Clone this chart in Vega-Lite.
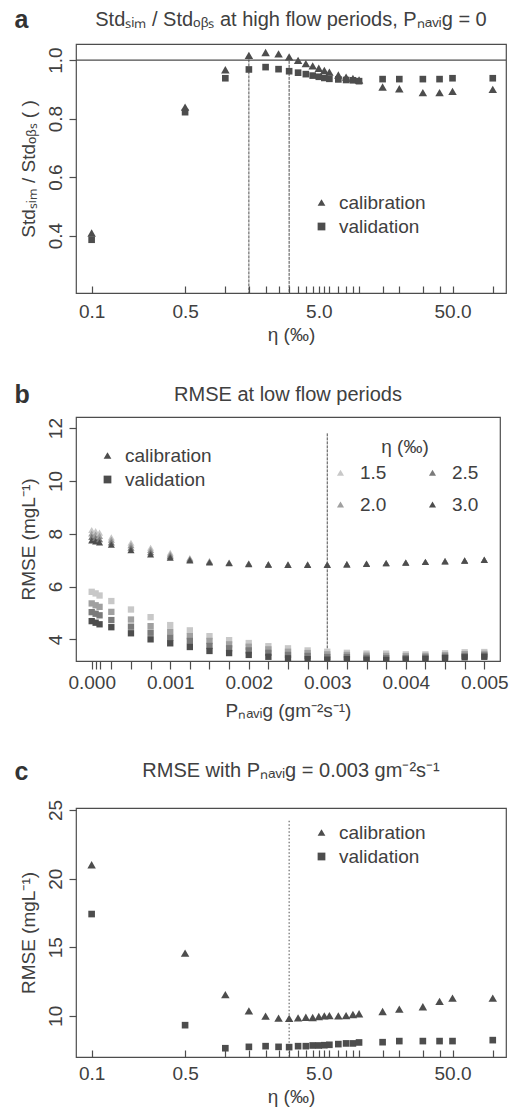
{
 "$schema": "https://vega.github.io/schema/vega-lite/v6.json",
 "background": "white",
 "padding": {"left": 14, "top": 8, "right": 0, "bottom": 0},
 "spacing": 38,
 "resolve": {"scale": {"color": "independent", "shape": "independent"}, "legend": {"color": "independent", "shape": "independent"}},
 "config": {
  "font": "Liberation Sans",
  "view": {"stroke": "#4d4d4d", "strokeWidth": 1.2},
  "axis": {"grid": false, "domain": false, "ticks": true, "tickColor": "#4d4d4d", "tickWidth": 1.2, "tickSize": 7, "labelFont": "Liberation Sans", "labelFontSize": 19, "labelColor": "#404040", "titleFont": "Liberation Sans", "titleFontSize": 19, "titleFontWeight": "normal", "titleColor": "#404040", "labelPadding": 4, "labelOverlap": false, "labelFlush": false},
  "axisY": {"labelAngle": 270, "titlePadding": 8},
  "axisX": {"titlePadding": 4},
  "title": {"font": "Liberation Sans", "fontSize": 20, "fontWeight": "normal", "color": "#404040"},
  "legend": {"orient": "none", "padding": 0, "labelFont": "Liberation Sans", "labelFontSize": 19, "labelColor": "#404040", "titleFont": "Liberation Sans", "titleFontSize": 19, "titleFontWeight": "normal", "titleColor": "#404040", "symbolSize": 60, "labelOffset": 8, "rowPadding": 4, "symbolStrokeWidth": 0, "symbolFillColor": "#4d4d4d"}
 },
 "datasets": {
  "aCal": [
   {"eta":0.1,"v":0.409,"t":"calibration"},{"eta":0.5,"v":0.839,"t":"calibration"},{"eta":1,"v":0.967,"t":"calibration"},{"eta":1.5,"v":1.016,"t":"calibration"},{"eta":2,"v":1.026,"t":"calibration"},{"eta":2.5,"v":1.021,"t":"calibration"},{"eta":3,"v":1.011,"t":"calibration"},{"eta":3.5,"v":0.999,"t":"calibration"},{"eta":4,"v":0.988,"t":"calibration"},{"eta":4.5,"v":0.980,"t":"calibration"},{"eta":5,"v":0.972,"t":"calibration"},{"eta":5.5,"v":0.965,"t":"calibration"},{"eta":6,"v":0.959,"t":"calibration"},{"eta":7,"v":0.949,"t":"calibration"},{"eta":8,"v":0.942,"t":"calibration"},{"eta":9,"v":0.937,"t":"calibration"},{"eta":10,"v":0.932,"t":"calibration"},{"eta":15,"v":0.908,"t":"calibration"},{"eta":20,"v":0.902,"t":"calibration"},{"eta":30,"v":0.889,"t":"calibration"},{"eta":40,"v":0.889,"t":"calibration"},{"eta":50,"v":0.893,"t":"calibration"},{"eta":100,"v":0.900,"t":"calibration"}
  ],
  "aVal": [
   {"eta":0.1,"v":0.386,"t":"validation"},{"eta":0.5,"v":0.822,"t":"validation"},{"eta":1,"v":0.938,"t":"validation"},{"eta":1.5,"v":0.968,"t":"validation"},{"eta":2,"v":0.976,"t":"validation"},{"eta":2.5,"v":0.969,"t":"validation"},{"eta":3,"v":0.962,"t":"validation"},{"eta":3.5,"v":0.957,"t":"validation"},{"eta":4,"v":0.952,"t":"validation"},{"eta":4.5,"v":0.947,"t":"validation"},{"eta":5,"v":0.943,"t":"validation"},{"eta":5.5,"v":0.939,"t":"validation"},{"eta":6,"v":0.936,"t":"validation"},{"eta":7,"v":0.934,"t":"validation"},{"eta":8,"v":0.932,"t":"validation"},{"eta":9,"v":0.931,"t":"validation"},{"eta":10,"v":0.928,"t":"validation"},{"eta":15,"v":0.935,"t":"validation"},{"eta":20,"v":0.935,"t":"validation"},{"eta":30,"v":0.935,"t":"validation"},{"eta":40,"v":0.935,"t":"validation"},{"eta":50,"v":0.938,"t":"validation"},{"eta":100,"v":0.938,"t":"validation"}
  ],
  "cCal": [
   {"eta":0.1,"v":21.01,"t":"calibration"},{"eta":0.5,"v":14.57,"t":"calibration"},{"eta":1,"v":11.55,"t":"calibration"},{"eta":1.5,"v":10.36,"t":"calibration"},{"eta":2,"v":9.98,"t":"calibration"},{"eta":2.5,"v":9.83,"t":"calibration"},{"eta":3,"v":9.81,"t":"calibration"},{"eta":3.5,"v":9.85,"t":"calibration"},{"eta":4,"v":9.90,"t":"calibration"},{"eta":4.5,"v":9.88,"t":"calibration"},{"eta":5,"v":9.95,"t":"calibration"},{"eta":5.5,"v":10.0,"t":"calibration"},{"eta":6,"v":10.02,"t":"calibration"},{"eta":7,"v":10.0,"t":"calibration"},{"eta":8,"v":10.02,"t":"calibration"},{"eta":9,"v":10.10,"t":"calibration"},{"eta":10,"v":10.15,"t":"calibration"},{"eta":15,"v":10.32,"t":"calibration"},{"eta":20,"v":10.49,"t":"calibration"},{"eta":30,"v":10.66,"t":"calibration"},{"eta":40,"v":11.05,"t":"calibration"},{"eta":50,"v":11.29,"t":"calibration"},{"eta":100,"v":11.29,"t":"calibration"}
  ],
  "cVal": [
   {"eta":0.1,"v":17.42,"t":"validation"},{"eta":0.5,"v":9.32,"t":"validation"},{"eta":1,"v":7.64,"t":"validation"},{"eta":1.5,"v":7.74,"t":"validation"},{"eta":2,"v":7.79,"t":"validation"},{"eta":2.5,"v":7.74,"t":"validation"},{"eta":3,"v":7.72,"t":"validation"},{"eta":3.5,"v":7.79,"t":"validation"},{"eta":4,"v":7.79,"t":"validation"},{"eta":4.5,"v":7.84,"t":"validation"},{"eta":5,"v":7.84,"t":"validation"},{"eta":5.5,"v":7.86,"t":"validation"},{"eta":6,"v":7.89,"t":"validation"},{"eta":7,"v":7.94,"t":"validation"},{"eta":8,"v":7.99,"t":"validation"},{"eta":9,"v":7.99,"t":"validation"},{"eta":10,"v":8.06,"t":"validation"},{"eta":15,"v":8.08,"t":"validation"},{"eta":20,"v":8.16,"t":"validation"},{"eta":30,"v":8.16,"t":"validation"},{"eta":40,"v":8.16,"t":"validation"},{"eta":50,"v":8.16,"t":"validation"},{"eta":100,"v":8.23,"t":"validation"}
  ],
  "bCal": [
   {"p":0,"e":"1.5","t":"calibration","v":8.14},{"p":0,"e":"2.0","t":"calibration","v":8.01},{"p":0,"e":"2.5","t":"calibration","v":7.88},{"p":0,"e":"3.0","t":"calibration","v":7.75},
   {"p":0.00005,"e":"1.5","t":"calibration","v":8.10},{"p":0.00005,"e":"2.0","t":"calibration","v":7.97},{"p":0.00005,"e":"2.5","t":"calibration","v":7.84},{"p":0.00005,"e":"3.0","t":"calibration","v":7.71},
   {"p":0.0001,"e":"1.5","t":"calibration","v":8.04},{"p":0.0001,"e":"2.0","t":"calibration","v":7.92},{"p":0.0001,"e":"2.5","t":"calibration","v":7.79},{"p":0.0001,"e":"3.0","t":"calibration","v":7.67},
   {"p":0.00025,"e":"1.5","t":"calibration","v":7.86},{"p":0.00025,"e":"2.0","t":"calibration","v":7.77},{"p":0.00025,"e":"2.5","t":"calibration","v":7.67},{"p":0.00025,"e":"3.0","t":"calibration","v":7.58},
   {"p":0.0005,"e":"1.5","t":"calibration","v":7.66},{"p":0.0005,"e":"2.0","t":"calibration","v":7.57},{"p":0.0005,"e":"2.5","t":"calibration","v":7.47},{"p":0.0005,"e":"3.0","t":"calibration","v":7.38},
   {"p":0.00075,"e":"1.5","t":"calibration","v":7.47},{"p":0.00075,"e":"2.0","t":"calibration","v":7.39},{"p":0.00075,"e":"2.5","t":"calibration","v":7.30},{"p":0.00075,"e":"3.0","t":"calibration","v":7.22},
   {"p":0.001,"e":"1.5","t":"calibration","v":7.28},{"p":0.001,"e":"2.0","t":"calibration","v":7.22},{"p":0.001,"e":"2.5","t":"calibration","v":7.15},{"p":0.001,"e":"3.0","t":"calibration","v":7.09},
   {"p":0.00125,"e":"1.5","t":"calibration","v":7.08},{"p":0.00125,"e":"2.0","t":"calibration","v":7.05},{"p":0.00125,"e":"2.5","t":"calibration","v":7.02},{"p":0.00125,"e":"3.0","t":"calibration","v":6.99},
   {"p":0.0015,"e":"1.5","t":"calibration","v":6.97},{"p":0.0015,"e":"2.0","t":"calibration","v":6.95},{"p":0.0015,"e":"2.5","t":"calibration","v":6.93},{"p":0.0015,"e":"3.0","t":"calibration","v":6.91},
   {"p":0.00175,"e":"1.5","t":"calibration","v":6.92},{"p":0.00175,"e":"2.0","t":"calibration","v":6.90},{"p":0.00175,"e":"2.5","t":"calibration","v":6.89},{"p":0.00175,"e":"3.0","t":"calibration","v":6.88},
   {"p":0.002,"e":"1.5","t":"calibration","v":6.88},{"p":0.002,"e":"2.0","t":"calibration","v":6.87},{"p":0.002,"e":"2.5","t":"calibration","v":6.86},{"p":0.002,"e":"3.0","t":"calibration","v":6.85},
   {"p":0.00225,"e":"1.5","t":"calibration","v":6.85},{"p":0.00225,"e":"2.0","t":"calibration","v":6.84},{"p":0.00225,"e":"2.5","t":"calibration","v":6.84},{"p":0.00225,"e":"3.0","t":"calibration","v":6.83},
   {"p":0.0025,"e":"1.5","t":"calibration","v":6.84},{"p":0.0025,"e":"2.0","t":"calibration","v":6.83},{"p":0.0025,"e":"2.5","t":"calibration","v":6.83},{"p":0.0025,"e":"3.0","t":"calibration","v":6.82},
   {"p":0.00275,"e":"1.5","t":"calibration","v":6.84},{"p":0.00275,"e":"2.0","t":"calibration","v":6.83},{"p":0.00275,"e":"2.5","t":"calibration","v":6.83},{"p":0.00275,"e":"3.0","t":"calibration","v":6.82},
   {"p":0.003,"e":"1.5","t":"calibration","v":6.84},{"p":0.003,"e":"2.0","t":"calibration","v":6.83},{"p":0.003,"e":"2.5","t":"calibration","v":6.83},{"p":0.003,"e":"3.0","t":"calibration","v":6.82},
   {"p":0.00325,"e":"1.5","t":"calibration","v":6.85},{"p":0.00325,"e":"2.0","t":"calibration","v":6.85},{"p":0.00325,"e":"2.5","t":"calibration","v":6.84},{"p":0.00325,"e":"3.0","t":"calibration","v":6.84},
   {"p":0.0035,"e":"1.5","t":"calibration","v":6.87},{"p":0.0035,"e":"2.0","t":"calibration","v":6.87},{"p":0.0035,"e":"2.5","t":"calibration","v":6.86},{"p":0.0035,"e":"3.0","t":"calibration","v":6.86},
   {"p":0.00375,"e":"1.5","t":"calibration","v":6.89},{"p":0.00375,"e":"2.0","t":"calibration","v":6.89},{"p":0.00375,"e":"2.5","t":"calibration","v":6.88},{"p":0.00375,"e":"3.0","t":"calibration","v":6.88},
   {"p":0.004,"e":"1.5","t":"calibration","v":6.92},{"p":0.004,"e":"2.0","t":"calibration","v":6.91},{"p":0.004,"e":"2.5","t":"calibration","v":6.91},{"p":0.004,"e":"3.0","t":"calibration","v":6.90},
   {"p":0.00425,"e":"1.5","t":"calibration","v":6.94},{"p":0.00425,"e":"2.0","t":"calibration","v":6.94},{"p":0.00425,"e":"2.5","t":"calibration","v":6.93},{"p":0.00425,"e":"3.0","t":"calibration","v":6.93},
   {"p":0.0045,"e":"1.5","t":"calibration","v":6.97},{"p":0.0045,"e":"2.0","t":"calibration","v":6.96},{"p":0.0045,"e":"2.5","t":"calibration","v":6.96},{"p":0.0045,"e":"3.0","t":"calibration","v":6.95},
   {"p":0.00475,"e":"1.5","t":"calibration","v":6.99},{"p":0.00475,"e":"2.0","t":"calibration","v":6.99},{"p":0.00475,"e":"2.5","t":"calibration","v":6.98},{"p":0.00475,"e":"3.0","t":"calibration","v":6.98},
   {"p":0.005,"e":"1.5","t":"calibration","v":7.02},{"p":0.005,"e":"2.0","t":"calibration","v":7.02},{"p":0.005,"e":"2.5","t":"calibration","v":7.01},{"p":0.005,"e":"3.0","t":"calibration","v":7.01}
  ],
  "bVal": [
   {"p":0,"e":"1.5","t":"validation","v":5.80},{"p":0,"e":"2.0","t":"validation","v":5.36},{"p":0,"e":"2.5","t":"validation","v":5.03},{"p":0,"e":"3.0","t":"validation","v":4.69},
   {"p":0.00005,"e":"1.5","t":"validation","v":5.74},{"p":0.00005,"e":"2.0","t":"validation","v":5.29},{"p":0.00005,"e":"2.5","t":"validation","v":4.97},{"p":0.00005,"e":"3.0","t":"validation","v":4.63},
   {"p":0.0001,"e":"1.5","t":"validation","v":5.66},{"p":0.0001,"e":"2.0","t":"validation","v":5.23},{"p":0.0001,"e":"2.5","t":"validation","v":4.91},{"p":0.0001,"e":"3.0","t":"validation","v":4.57},
   {"p":0.00025,"e":"1.5","t":"validation","v":5.45},{"p":0.00025,"e":"2.0","t":"validation","v":5.04},{"p":0.00025,"e":"2.5","t":"validation","v":4.73},{"p":0.00025,"e":"3.0","t":"validation","v":4.46},
   {"p":0.0005,"e":"1.5","t":"validation","v":5.13},{"p":0.0005,"e":"2.0","t":"validation","v":4.75},{"p":0.0005,"e":"2.5","t":"validation","v":4.48},{"p":0.0005,"e":"3.0","t":"validation","v":4.23},
   {"p":0.00075,"e":"1.5","t":"validation","v":4.84},{"p":0.00075,"e":"2.0","t":"validation","v":4.50},{"p":0.00075,"e":"2.5","t":"validation","v":4.25},{"p":0.00075,"e":"3.0","t":"validation","v":4.00},
   {"p":0.001,"e":"1.5","t":"validation","v":4.54},{"p":0.001,"e":"2.0","t":"validation","v":4.29},{"p":0.001,"e":"2.5","t":"validation","v":4.06},{"p":0.001,"e":"3.0","t":"validation","v":3.85},
   {"p":0.00125,"e":"1.5","t":"validation","v":4.34},{"p":0.00125,"e":"2.0","t":"validation","v":4.12},{"p":0.00125,"e":"2.5","t":"validation","v":3.94},{"p":0.00125,"e":"3.0","t":"validation","v":3.71},
   {"p":0.0015,"e":"1.5","t":"validation","v":4.12},{"p":0.0015,"e":"2.0","t":"validation","v":3.94},{"p":0.0015,"e":"2.5","t":"validation","v":3.75},{"p":0.0015,"e":"3.0","t":"validation","v":3.56},
   {"p":0.00175,"e":"1.5","t":"validation","v":3.97},{"p":0.00175,"e":"2.0","t":"validation","v":3.81},{"p":0.00175,"e":"2.5","t":"validation","v":3.66},{"p":0.00175,"e":"3.0","t":"validation","v":3.48},
   {"p":0.002,"e":"1.5","t":"validation","v":3.86},{"p":0.002,"e":"2.0","t":"validation","v":3.72},{"p":0.002,"e":"2.5","t":"validation","v":3.58},{"p":0.002,"e":"3.0","t":"validation","v":3.41},
   {"p":0.00225,"e":"1.5","t":"validation","v":3.74},{"p":0.00225,"e":"2.0","t":"validation","v":3.62},{"p":0.00225,"e":"2.5","t":"validation","v":3.49},{"p":0.00225,"e":"3.0","t":"validation","v":3.34},
   {"p":0.0025,"e":"1.5","t":"validation","v":3.66},{"p":0.0025,"e":"2.0","t":"validation","v":3.53},{"p":0.0025,"e":"2.5","t":"validation","v":3.41},{"p":0.0025,"e":"3.0","t":"validation","v":3.28},
   {"p":0.00275,"e":"1.5","t":"validation","v":3.58},{"p":0.00275,"e":"2.0","t":"validation","v":3.48},{"p":0.00275,"e":"2.5","t":"validation","v":3.37},{"p":0.00275,"e":"3.0","t":"validation","v":3.25},
   {"p":0.003,"e":"1.5","t":"validation","v":3.53},{"p":0.003,"e":"2.0","t":"validation","v":3.43},{"p":0.003,"e":"2.5","t":"validation","v":3.33},{"p":0.003,"e":"3.0","t":"validation","v":3.23},
   {"p":0.00325,"e":"1.5","t":"validation","v":3.49},{"p":0.00325,"e":"2.0","t":"validation","v":3.41},{"p":0.00325,"e":"2.5","t":"validation","v":3.33},{"p":0.00325,"e":"3.0","t":"validation","v":3.25},
   {"p":0.0035,"e":"1.5","t":"validation","v":3.46},{"p":0.0035,"e":"2.0","t":"validation","v":3.38},{"p":0.0035,"e":"2.5","t":"validation","v":3.30},{"p":0.0035,"e":"3.0","t":"validation","v":3.23},
   {"p":0.00375,"e":"1.5","t":"validation","v":3.46},{"p":0.00375,"e":"2.0","t":"validation","v":3.37},{"p":0.00375,"e":"2.5","t":"validation","v":3.29},{"p":0.00375,"e":"3.0","t":"validation","v":3.22},
   {"p":0.004,"e":"1.5","t":"validation","v":3.43},{"p":0.004,"e":"2.0","t":"validation","v":3.36},{"p":0.004,"e":"2.5","t":"validation","v":3.29},{"p":0.004,"e":"3.0","t":"validation","v":3.24},
   {"p":0.00425,"e":"1.5","t":"validation","v":3.43},{"p":0.00425,"e":"2.0","t":"validation","v":3.37},{"p":0.00425,"e":"2.5","t":"validation","v":3.31},{"p":0.00425,"e":"3.0","t":"validation","v":3.26},
   {"p":0.0045,"e":"1.5","t":"validation","v":3.47},{"p":0.0045,"e":"2.0","t":"validation","v":3.40},{"p":0.0045,"e":"2.5","t":"validation","v":3.34},{"p":0.0045,"e":"3.0","t":"validation","v":3.29},
   {"p":0.00475,"e":"1.5","t":"validation","v":3.51},{"p":0.00475,"e":"2.0","t":"validation","v":3.44},{"p":0.00475,"e":"2.5","t":"validation","v":3.37},{"p":0.00475,"e":"3.0","t":"validation","v":3.32},
   {"p":0.005,"e":"1.5","t":"validation","v":3.52},{"p":0.005,"e":"2.0","t":"validation","v":3.45},{"p":0.005,"e":"2.5","t":"validation","v":3.39},{"p":0.005,"e":"3.0","t":"validation","v":3.34}
  ]
 },
 "vconcat": [
  {
   "title": {"text": "a", "anchor": "start", "frame": "bounds", "fontSize": 25, "fontWeight": "bold", "color": "#333333", "offset": -24, "dx": -4},
   "resolve": {"scale": {"color": "independent", "shape": "independent"}, "legend": {"color": "independent", "shape": "independent"}},
   "vconcat": [
    {
     "width": 430, "height": 249,
     "title": {"text": "Stdₛᵢₘ / Stdₒᵦₛ at high flow periods, Pₙₐᵥᵢg = 0", "anchor": "middle", "frame": "group", "offset": 14},
     "layer": [
      {"data": {"values": [{"v": 1}]}, "mark": {"type": "rule", "color": "#4d4d4d", "strokeWidth": 1.2},
       "encoding": {"y": {"field": "v", "type": "quantitative", "scale": {"domain": [0.204, 1.055], "nice": false, "zero": false}}}},
      {"data": {"values": [{"eta": 1.5, "v": 1.016, "v2": 0.204}, {"eta": 3, "v": 1.011, "v2": 0.204}]},
       "mark": {"type": "rule", "color": "#4d4d4d", "strokeWidth": 1, "strokeDash": [3, 1]},
       "encoding": {"x": {"field": "eta", "type": "quantitative", "scale": {"type": "log", "domain": [0.0764, 125.6], "nice": false}},
                    "y": {"field": "v", "type": "quantitative", "scale": {"domain": [0.204, 1.055], "nice": false, "zero": false}}, "y2": {"field": "v2"}}},
      {"data": {"name": "aCal"}, "mark": {"type": "point", "filled": true, "opacity": 1, "color": "#4d4d4d", "size": 72},
       "encoding": {
        "x": {"field": "eta", "type": "quantitative", "scale": {"type": "log", "domain": [0.0764, 125.6], "nice": false},
              "axis": {"title": "η (‰)", "values": [0.1, 0.5, 1, 1.5, 2, 2.5, 3, 3.5, 4, 4.5, 5, 5.5, 6, 7, 8, 9, 10, 15, 20, 30, 40, 50, 100], "labelExpr": "indexof([0.1,0.5,5,50], datum.value) >= 0 ? format(datum.value, '.1f') : ''", "tickSize": -7, "labelPadding": 16, "labelOverlap": false}},
        "y": {"field": "v", "type": "quantitative", "scale": {"domain": [0.204, 1.055], "nice": false, "zero": false},
              "axis": {"title": "Stdₛᵢₘ / Stdₒᵦₛ ( )", "values": [0.4, 0.6, 0.8, 1.0], "format": ".1f", "labelOverlap": false}},
        "shape": {"field": "t", "type": "nominal", "scale": {"domain": ["calibration", "validation"], "range": ["triangle-up", "square"]},
                  "legend": {"title": null, "legendX": 236, "legendY": 149}}
       }},
      {"data": {"name": "aVal"}, "mark": {"type": "point", "filled": true, "opacity": 1, "color": "#4d4d4d", "size": 44},
       "encoding": {
        "x": {"field": "eta", "type": "quantitative", "scale": {"type": "log", "domain": [0.0764, 125.6], "nice": false}},
        "y": {"field": "v", "type": "quantitative", "scale": {"domain": [0.204, 1.055], "nice": false, "zero": false}},
        "shape": {"field": "t", "type": "nominal"}
       }}
     ]
    }
   ]
  },
  {
   "title": {"text": "b", "anchor": "start", "frame": "bounds", "fontSize": 25, "fontWeight": "bold", "color": "#333333", "offset": -24, "dx": -4},
   "resolve": {"scale": {"color": "independent", "shape": "independent"}, "legend": {"color": "independent", "shape": "independent"}},
   "vconcat": [
    {
     "width": 424, "height": 244,
     "title": {"text": "RMSE at low flow periods", "anchor": "middle", "frame": "group", "offset": 12},
     "resolve": {"axis": {"x": "independent"}},
     "layer": [
      {"data": {"values": [{"p": 0.003, "v": 11.8, "v2": 3.18}]},
       "mark": {"type": "rule", "color": "#4d4d4d", "strokeWidth": 1, "strokeDash": [3, 1]},
       "encoding": {"x": {"field": "p", "type": "quantitative", "scale": {"domain": [-0.0002, 0.0052], "nice": false, "zero": false},
                          "axis": {"orient": "bottom", "title": null, "labels": false, "tickSize": 8, "values": [0, 0.00005, 0.0001, 0.00025, 0.0005, 0.00075, 0.001, 0.00125, 0.0015, 0.00175, 0.002, 0.00225, 0.0025, 0.00275, 0.003, 0.00325, 0.0035, 0.00375, 0.004, 0.00425, 0.0045, 0.00475, 0.005]}},
                    "y": {"field": "v", "type": "quantitative", "scale": {"domain": [3.18, 12.42], "nice": false, "zero": false}}, "y2": {"field": "v2"}}},
      {"data": {"name": "bCal"}, "mark": {"type": "point", "filled": true, "opacity": 1, "size": 50, "clip": true},
       "encoding": {
        "x": {"field": "p", "type": "quantitative", "scale": {"domain": [-0.0002, 0.0052], "nice": false, "zero": false},
              "axis": {"orient": "bottom", "title": "Pₙₐᵥᵢg (gm⁻²s⁻¹)", "values": [0, 0.001, 0.002, 0.003, 0.004, 0.005], "format": ".3f", "ticks": false, "labelPadding": 12, "titlePadding": 9, "labelOverlap": false}},
        "y": {"field": "v", "type": "quantitative", "scale": {"domain": [3.18, 12.42], "nice": false, "zero": false},
              "axis": {"title": "RMSE (mgL⁻¹)", "values": [4, 6, 8, 10, 12], "labelOverlap": false}},
        "color": {"field": "e", "type": "nominal", "scale": {"domain": ["1.5", "2.5", "2.0", "3.0"], "range": ["#c8c8c8", "#7a7a7a", "#a0a0a0", "#4d4d4d"]},
                  "legend": {"title": "η (‰)", "columns": 2, "direction": "horizontal", "symbolType": "triangle-up", "symbolSize": 50, "titleAnchor": "middle", "titlePadding": 6, "columnPadding": 36, "rowPadding": 12, "labelOffset": 10, "legendX": 255, "legendY": 21, "symbolFillColor": null}},
        "shape": {"field": "t", "type": "nominal", "scale": {"domain": ["calibration", "validation"], "range": ["triangle-up", "square"]},
                  "legend": {"title": null, "legendX": 22, "legendY": 29, "symbolFillColor": "#4d4d4d"}}
       }},
      {"data": {"name": "bVal"}, "mark": {"type": "point", "filled": true, "opacity": 1, "size": 40, "clip": true},
       "encoding": {
        "x": {"field": "p", "type": "quantitative", "scale": {"domain": [-0.0002, 0.0052], "nice": false, "zero": false}, "axis": null},
        "y": {"field": "v", "type": "quantitative", "scale": {"domain": [3.18, 12.42], "nice": false, "zero": false}},
        "color": {"field": "e", "type": "nominal"},
        "shape": {"field": "t", "type": "nominal"}
       }}
     ]
    }
   ]
  },
  {
   "title": {"text": "c", "anchor": "start", "frame": "bounds", "fontSize": 25, "fontWeight": "bold", "color": "#333333", "offset": -24, "dx": -4},
   "resolve": {"scale": {"color": "independent", "shape": "independent"}, "legend": {"color": "independent", "shape": "independent"}},
   "vconcat": [
    {
     "width": 430, "height": 249,
     "title": {"text": "RMSE with Pₙₐᵥᵢg = 0.003 gm⁻²s⁻¹", "anchor": "middle", "frame": "group", "offset": 18},
     "layer": [
      {"data": {"values": [{"eta": 3, "v": 24.22, "v2": 7.0}]},
       "mark": {"type": "rule", "color": "#4d4d4d", "strokeWidth": 1, "strokeDash": [1.5, 2]},
       "encoding": {"x": {"field": "eta", "type": "quantitative", "scale": {"type": "log", "domain": [0.0764, 125.6], "nice": false}},
                    "y": {"field": "v", "type": "quantitative", "scale": {"domain": [7.0, 25.15], "nice": false, "zero": false}}, "y2": {"field": "v2"}}},
      {"data": {"name": "cCal"}, "mark": {"type": "point", "filled": true, "opacity": 1, "color": "#4d4d4d", "size": 72},
       "encoding": {
        "x": {"field": "eta", "type": "quantitative", "scale": {"type": "log", "domain": [0.0764, 125.6], "nice": false},
              "axis": {"title": "η (‰)", "values": [0.1, 0.5, 1, 1.5, 2, 2.5, 3, 3.5, 4, 4.5, 5, 5.5, 6, 7, 8, 9, 10, 15, 20, 30, 40, 50, 100], "labelExpr": "indexof([0.1,0.5,5,50], datum.value) >= 0 ? format(datum.value, '.1f') : ''", "tickSize": -7, "labelPadding": 14, "labelOverlap": false}},
        "y": {"field": "v", "type": "quantitative", "scale": {"domain": [7.0, 25.15], "nice": false, "zero": false},
              "axis": {"title": "RMSE (mgL⁻¹)", "values": [10, 15, 20, 25], "labelOverlap": false}},
        "shape": {"field": "t", "type": "nominal", "scale": {"domain": ["calibration", "validation"], "range": ["triangle-up", "square"]},
                  "legend": {"title": null, "legendX": 236, "legendY": 15}}
       }},
      {"data": {"name": "cVal"}, "mark": {"type": "point", "filled": true, "opacity": 1, "color": "#4d4d4d", "size": 44},
       "encoding": {
        "x": {"field": "eta", "type": "quantitative", "scale": {"type": "log", "domain": [0.0764, 125.6], "nice": false}},
        "y": {"field": "v", "type": "quantitative", "scale": {"domain": [7.0, 25.15], "nice": false, "zero": false}},
        "shape": {"field": "t", "type": "nominal"}
       }}
     ]
    }
   ]
  }
 ]
}
